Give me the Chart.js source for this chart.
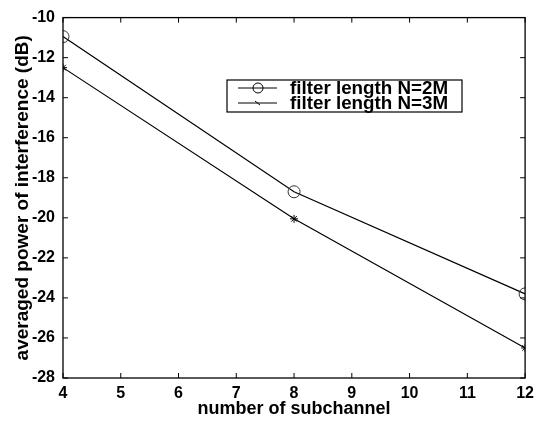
<!DOCTYPE html>
<html>
<head>
<meta charset="utf-8">
<script src="https://cdn.jsdelivr.net/npm/chart.js@4.4.0/dist/chart.umd.min.js"></script>
<style>
  html, body { margin: 0; padding: 0; background: #fff; }
  #wrap { width: 540px; height: 421px; }
</style>
</head>
<body>
<div id="wrap"><canvas id="plot" width="540" height="421"></canvas></div>
<script>
const subchannels = [4, 8, 12];
const power2M = [-10.95, -18.7, -23.8];
const power3M = [-12.5, -20.05, -26.5];
const xTicks = [4, 5, 6, 7, 8, 9, 10, 11, 12];
const yTicks = [-10, -12, -14, -16, -18, -20, -22, -24, -26, -28];
const seriesLabels = ['filter length N=2M', 'filter length N=3M'];

const FONT = 'Liberation Sans, Arial, sans-serif';

// MATLAB style box with inward ticks and a legend inside the plot
const boxPlugin = {
  id: 'boxPlugin',
  afterDraw(chart) {
    const ctx = chart.ctx;
    const a = chart.chartArea;
    const xs = chart.scales.x, ys = chart.scales.y;
    ctx.save();
    ctx.strokeStyle = '#000';
    ctx.lineWidth = 1.3;
    ctx.strokeRect(a.left, a.top, a.right - a.left, a.bottom - a.top);
    ctx.lineWidth = 1;
    const t = 5;
    ctx.beginPath();
    xTicks.forEach(v => {
      const px = xs.getPixelForValue(v);
      ctx.moveTo(px, a.bottom); ctx.lineTo(px, a.bottom - t);
      ctx.moveTo(px, a.top); ctx.lineTo(px, a.top + t);
    });
    yTicks.forEach(v => {
      const py = ys.getPixelForValue(v);
      ctx.moveTo(a.left, py); ctx.lineTo(a.left + t, py);
      ctx.moveTo(a.right, py); ctx.lineTo(a.right - t, py);
    });
    ctx.stroke();

    // legend
    const lx = 227, ly = 80, lw = 235, lh = 32;
    ctx.fillStyle = '#fff';
    ctx.fillRect(lx, ly, lw, lh);
    ctx.lineWidth = 1.2;
    ctx.strokeRect(lx, ly, lw, lh);
    ctx.font = 'bold 18.8px ' + FONT;
    ctx.fillStyle = '#000';
    ctx.textBaseline = 'middle';
    const rows = [ly + 8, ly + 23];
    rows.forEach((yy, i) => {
      ctx.lineWidth = 1;
      ctx.beginPath();
      ctx.moveTo(lx + 11, yy); ctx.lineTo(lx + 50, yy);
      ctx.stroke();
      if (i === 0) {
        ctx.beginPath();
        ctx.arc(lx + 31, yy, 5, 0, Math.PI * 2);
        ctx.stroke();
      } else {
        ctx.beginPath();
        ctx.moveTo(lx + 28, yy - 2); ctx.lineTo(lx + 33, yy + 2);
        ctx.stroke();
      }
      ctx.fillText(seriesLabels[i], lx + 63, yy + 1);
    });
    ctx.restore();
  }
};

new Chart(document.getElementById('plot'), {
  type: 'line',
  data: {
    datasets: [{
      label: seriesLabels[0],
      data: subchannels.map((x, i) => ({ x: x, y: power2M[i] })),
      borderColor: '#000',
      borderWidth: 1.2,
      pointStyle: 'circle',
      pointRadius: 6,
      pointBorderWidth: 1,
      pointBorderColor: '#333',
      pointBackgroundColor: 'rgba(0,0,0,0)',
      fill: false,
      tension: 0
    }, {
      label: seriesLabels[1],
      data: subchannels.map((x, i) => ({ x: x, y: power3M[i] })),
      borderColor: '#000',
      borderWidth: 1.2,
      pointStyle: 'star',
      pointRadius: 4,
      pointBorderWidth: 1,
      pointBorderColor: '#000',
      fill: false,
      tension: 0
    }]
  },
  options: {
    responsive: false,
    animation: false,
    layout: { padding: { top: 16, right: 12, left: 0, bottom: 0 } },
    plugins: { legend: { display: false }, tooltip: { enabled: false } },
    scales: {
      x: {
        type: 'linear',
        min: 4, max: 12,
        afterBuildTicks: s => { s.ticks = xTicks.map(v => ({ value: v })); },
        afterFit: s => { s.height = 43; },
        grid: { display: false, drawTicks: false },
        border: { display: false },
        ticks: { color: '#000', font: { family: FONT, size: 16, weight: 'bold' }, padding: 6, maxRotation: 0 },
        title: { display: true, text: 'number of subchannel', color: '#000',
                 font: { family: FONT, size: 18, weight: 'bold' }, padding: { top: 0, bottom: 1 } }
      },
      y: {
        min: -28, max: -10,
        afterBuildTicks: s => { s.ticks = yTicks.map(v => ({ value: v })); },
        afterFit: s => { s.width = 63; },
        grid: { display: false, drawTicks: false },
        border: { display: false },
        ticks: { color: '#000', font: { family: FONT, size: 16, weight: 'bold' }, padding: 8 },
        title: { display: true, text: 'averaged power of interference (dB)', color: '#000',
                 font: { family: FONT, size: 19, weight: 'bold' }, padding: { top: 11, bottom: 0 } }
      }
    }
  },
  plugins: [boxPlugin]
});
</script>
</body>
</html>
